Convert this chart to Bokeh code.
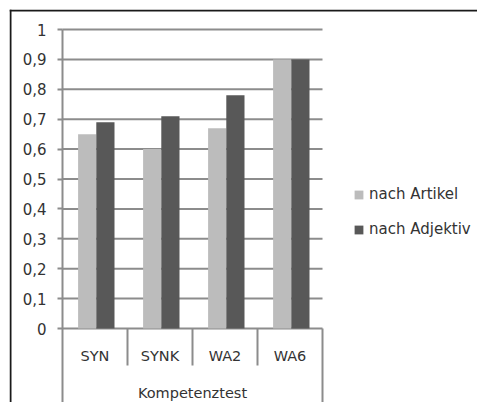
from bokeh.plotting import figure
from bokeh.models import (ColumnDataSource, Range1d, FixedTicker, Span,
                          CustomJSTickFormatter, Legend, LegendItem)
from bokeh.core.properties import value
from bokeh.embed import file_html
from bokeh.resources import INLINE

# ---- data ----
categories = ["SYN", "SYNK", "WA2", "WA6"]
nach_artikel = [0.65, 0.60, 0.67, 0.90]
nach_adjektiv = [0.69, 0.71, 0.78, 0.90]
series_names = ["nach Artikel", "nach Adjektiv"]
group_label = "Kompetenztest"
y_ticks = [0, 0.1, 0.2, 0.3, 0.4, 0.5, 0.6, 0.7, 0.8, 0.9, 1.0]

LIGHT = "#bcbcbc"
DARK = "#585858"
GRID = "#8c8c8c"
TXT = "#333333"
FONT = "DejaVu Sans"

n = len(categories)
centers = [i + 0.5 for i in range(n)]
src = ColumnDataSource(dict(
    cat=categories,
    xc=centers,
    xa=[c - 0.12 for c in centers],
    xb=[c + 0.16 for c in centers],
    a=nach_artikel,
    b=nach_adjektiv,
))

# layout constants (pixels -> data): 65 px per category, 299 px per unit on y
PX_X = 65.0
PX_Y = 299.0
x_start = -(62 - 9) / PX_X
x_end = (477 - 62) / PX_X
y_end = 1 + (29 - 9) / PX_Y
y_start = -(402 - 328) / PX_Y

p = figure(width=477, height=402,
           x_range=Range1d(x_start, x_end), y_range=Range1d(y_start, y_end),
           output_backend="svg", toolbar_location=None, x_axis_location=None,
           min_border_left=9, min_border_right=0, min_border_top=9,
           min_border_bottom=0, outline_line_color=None,
           border_fill_color="white", background_fill_color="white")
p.xgrid.visible = False
p.ygrid.visible = False

# frame border (top and left)
p.add_layout(Span(location=1 + (29 - 10) / PX_Y, dimension="width",
                  line_color="#1a1a1a", line_width=2))
p.add_layout(Span(location=-(62 - 10) / PX_X, dimension="height",
                  line_color="#1a1a1a", line_width=2))

# horizontal gridlines
p.segment(x0=0, x1=n, y0=y_ticks, y1=y_ticks, line_color=GRID, line_width=2)

# bars
r1 = p.vbar(x="xa", top="a", bottom=0, width=0.28, source=src,
            fill_color=LIGHT, line_color=None)
r2 = p.vbar(x="xb", top="b", bottom=0, width=0.28, source=src,
            fill_color=DARK, line_color=None)

# y axis at x = 0
yax = p.yaxis[0]
yax.fixed_location = 0
yax.bounds = (y_start, 1.0)
yax.ticker = FixedTicker(ticks=y_ticks)
yax.formatter = CustomJSTickFormatter(code="""
if (Math.abs(tick) < 1e-9) return "0";
if (Math.abs(tick - 1) < 1e-9) return "1";
return tick.toFixed(1).replace(".", ",");
""")
yax.axis_line_color = GRID
yax.axis_line_width = 2
yax.major_tick_line_color = GRID
yax.major_tick_line_width = 2
yax.major_tick_out = 5
yax.major_tick_in = 0
yax.minor_tick_line_color = None
yax.major_label_text_font = FONT
yax.major_label_text_font_size = "15px"
yax.major_label_text_color = TXT
yax.major_label_standoff = 11

# category separators
p.segment(x0=list(range(1, n)), x1=list(range(1, n)), y0=0, y1=-37 / PX_Y,
          line_color=GRID, line_width=2)
p.segment(x0=[n], x1=[n], y0=0, y1=y_start, line_color=GRID, line_width=2)

# category labels
p.text(x="xc", y=-27 / PX_Y, text="cat", source=src, text_align="center",
       text_baseline="middle", text_font=value(FONT), text_font_size="14.5px",
       text_color=TXT)
p.text(x=[n / 2], y=[-64 / PX_Y], text=[group_label],
       text_align="center", text_baseline="middle", text_font=value(FONT),
       text_font_size="14.5px", text_color=TXT)

legend = Legend(items=[LegendItem(label=series_names[0], renderers=[r1]),
                       LegendItem(label=series_names[1], renderers=[r2])],
                location=(344, 163), glyph_width=11, glyph_height=11,
                label_standoff=5, label_text_font=FONT, label_text_font_size="15px",
                label_text_color=TXT, label_height=20, spacing=15, padding=0,
                margin=0, border_line_color=None, background_fill_alpha=0)
p.add_layout(legend)

open("out.html", "w").write(file_html(p, INLINE))
